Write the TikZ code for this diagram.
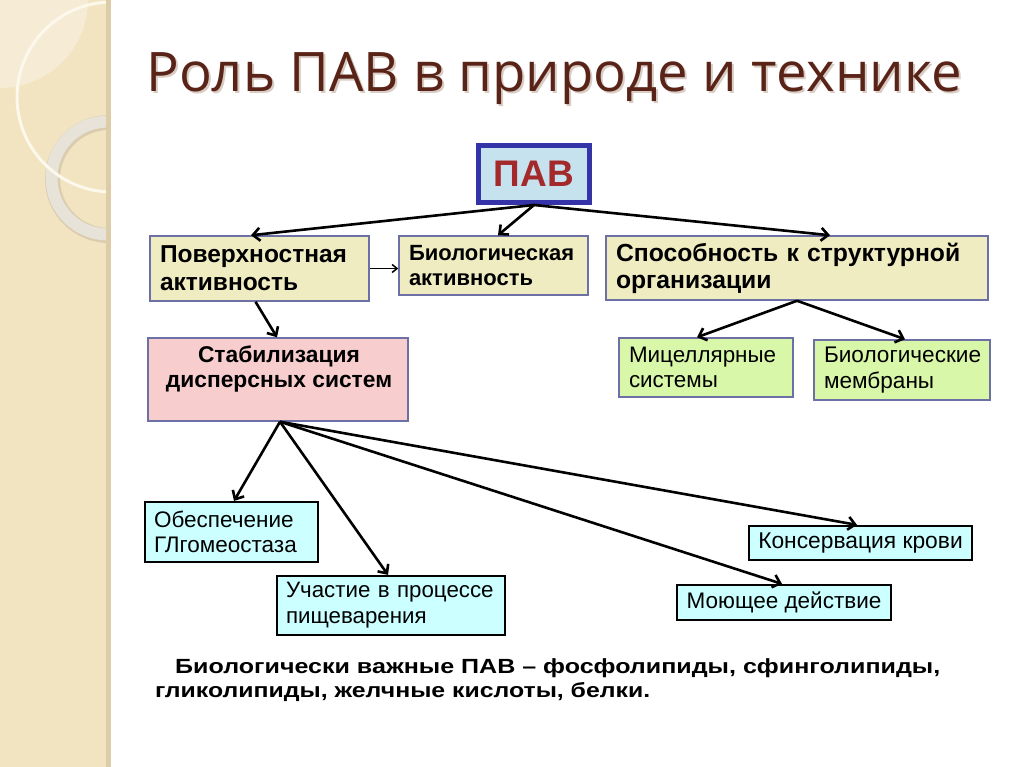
\documentclass[tikz,border=0pt]{standalone}
\usepackage{fontspec}
\usepackage{graphicx}
\setmainfont{Liberation Sans}
\newfontfamily\titlefont{Open Sans}
\usetikzlibrary{arrows.meta}
\definecolor{stripbg}{HTML}{F2E3C1}
\definecolor{striplight}{HTML}{F6ECD6}
\definecolor{stripedge}{HTML}{DCCCA8}
\definecolor{ringc}{HTML}{E7E3D9}
\definecolor{ringedge}{HTML}{C9BEA4}
\definecolor{creamline}{HTML}{FCF8EC}
\definecolor{titlec}{HTML}{5A2318}
\definecolor{titleshadow}{HTML}{D8CCC4}
\definecolor{pavfill}{HTML}{C6E2EE}
\definecolor{pavdraw}{HTML}{3434A8}
\definecolor{pavtext}{HTML}{A3292B}
\definecolor{bordc}{HTML}{6C70A4}
\definecolor{yfill}{HTML}{EFECC2}
\definecolor{pfill}{HTML}{F8CDCD}
\definecolor{gfill}{HTML}{D9F7A8}
\definecolor{cfill}{HTML}{CCFFFF}
\tikzset{
  ybox/.style={draw=bordc, fill=yfill, line width=1.5pt, inner xsep=10pt, inner ysep=0pt, align=left},
  pbox/.style={draw=bordc, fill=pfill, line width=1.5pt, inner sep=0pt},
  gbox/.style={draw=bordc, fill=gfill, line width=1.5pt, inner xsep=10pt, inner ysep=0pt, align=left},
  cbox/.style={draw=black, fill=cfill, line width=2.2pt, inner xsep=9pt, inner ysep=0pt, align=left},
  conn/.style={line width=2.6pt, -{Straight Barb[length=7pt,width=13pt]}},
  titlestyle/.style={anchor=base west, inner sep=0pt, font=\titlefont\fontsize{54.5}{62}\selectfont},
}
\begin{document}
\begin{tikzpicture}[x=1pt,y=-1pt]
\useasboundingbox (0,0) rectangle (1024,767);
\fill[white] (0,0) rectangle (1024,767);
% decorative strip
\begin{scope}
  \clip (0,0) rectangle (108,767);
  \fill[stripbg] (0,0) rectangle (108,767);
  \fill[striplight] (0,0) circle (88);
  \draw[ringedge, line width=15pt, opacity=0.6] (109,179) circle (56.5);
  \draw[ringc, line width=12pt] (108,178) circle (56.5);
  \draw[creamline, line width=3pt] (112,97) circle (95);
\end{scope}
\fill[stripedge] (106,0) rectangle (111,767);
% title
\node[titlestyle, text=titleshadow] (titleshadow) at (148,94) {Роль ПАВ в природе и технике};
\node[titlestyle, text=titlec] (title) at (146,92) {Роль ПАВ в природе и технике};
% nodes
\node[draw=pavdraw, fill=pavfill, line width=5pt, minimum width=111pt, minimum height=57pt, inner sep=0pt, text=pavtext, font=\bfseries\fontsize{37}{42}\selectfont] (pav) at (534,174) {ПАВ};
\node[ybox, minimum height=65pt, text width=199pt, font=\bfseries\fontsize{24.5}{28}\selectfont] (pov) at (259.5,268.5) {Поверхностная\\активность};
\node[ybox, minimum height=59pt, text width=169pt, font=\bfseries\fontsize{22}{25}\selectfont] (bio) at (493.5,265.5) {Биологическая\\ активность};
\node[ybox, minimum height=64pt, text width=362pt, font=\bfseries\fontsize{24.7}{27}\selectfont] (spos) at (797,268) {Способность к структурной\\организации};
\node[pbox, minimum width=260pt, minimum height=83pt] (stab) at (278,379.5) {};
\node[inner sep=0pt, align=center, font=\bfseries\fontsize{22.8}{25}\selectfont] (stabt) at (279,369) {Стабилизация\\дисперсных систем};
\node[gbox, minimum height=59pt, text width=154pt, font=\fontsize{22.4}{25}\selectfont] (mic) at (706,367.5) {Мицеллярные\\системы};
\node[gbox, minimum height=60pt, text width=156pt, font=\fontsize{22.6}{26}\selectfont] (mem) at (902,370) {Биологические\\мембраны};
\node[cbox, minimum height=60pt, text width=155pt, font=\fontsize{22.5}{25}\selectfont] (obes) at (231.5,532) {Обеспечение\\ГЛгомеостаза};
\node[cbox, minimum height=59pt, text width=210pt, font=\fontsize{22.3}{26}\selectfont] (uch) at (391,605.5) {Участие в процессе\\пищеварения};
\node[cbox, minimum width=223pt, minimum height=34pt, align=center, font=\fontsize{22.8}{24}\selectfont] (kons) at (860.5,543) {Консервация крови};
\node[cbox, minimum width=214pt, minimum height=35pt, align=center, font=\fontsize{22.5}{24}\selectfont] (moy) at (784,602.5) {Моющее действие};
% connectors
\draw[conn] (pav.south) -- ([xshift=-8.5pt]pov.north);
\draw[conn] (pav.south) -- ([xshift=4.5pt]bio.north);
\draw[conn] (pav.south) -- ([xshift=33pt]spos.north);
\draw[line width=1.5pt, -{Straight Barb[length=5pt,width=8pt]}] (pov.east) -- (pov.east -| bio.west);
\draw[conn] ([xshift=-4pt]pov.south) -- ([xshift=-1pt]stab.north);
\draw[conn] (spos.south) -- ([xshift=-9pt]mic.north);
\draw[conn] (spos.south) -- ([xshift=3pt]mem.north);
\draw[conn] ([xshift=2pt]stab.south) -- ([xshift=2.5pt]obes.north);
\draw[conn] ([xshift=2pt]stab.south) -- ([xshift=-3pt]uch.north);
\draw[conn] ([xshift=2pt]stab.south) -- ([xshift=-3.5pt]kons.north);
\draw[conn] ([xshift=2pt]stab.south) -- ([xshift=-2pt]moy.north);
% bottom text
\node[anchor=base west, inner sep=0pt, font=\bfseries\fontsize{20.5}{24}\selectfont] (note1) at (175,673) {\resizebox{765pt}{\height}{Биологически важные ПАВ – фосфолипиды, сфинголипиды,}};
\node[anchor=base west, inner sep=0pt, font=\bfseries\fontsize{20.5}{24}\selectfont] (note2) at (155,697) {\resizebox{495pt}{\height}{гликолипиды, желчные кислоты, белки.}};
\end{tikzpicture}
\end{document}
